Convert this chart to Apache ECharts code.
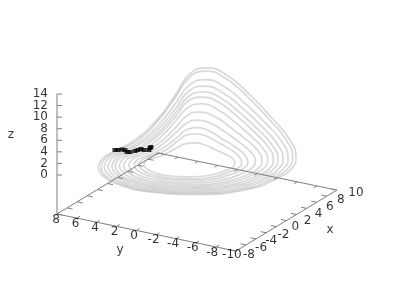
<!DOCTYPE html>
<html><head><meta charset="utf-8">
<style>html,body{margin:0;padding:0;background:#fff}#c{width:394px;height:296px}</style>
<script src="https://cdn.jsdelivr.net/npm/echarts@6/dist/echarts.min.js"></script>
</head><body><div id="c"></div>
<script>
const xTicks=[-10,-8,-6,-4,-2,0,2,4,6,8,10];
const yTicks=[8,6,4,2,0,-2,-4,-6,-8];
const zTicks=[0,2,4,6,8,10,12,14];

const a_x=[-5.97,-7.91,-9.25,-9.44,-7.67,-4.15,.04,2.48,3.96,6.09,7.03,7.29,7.99,7.48,6.56,5.08,2.85,-.34,-1.91,-3.66];
const a_y=[5.92,4.43,2.04,-1.07,-4.90,-7.94,-9.14,-9.40,-8.95,-7.26,-4.98,-2.64,-.07,1.79,3.04,3.88,4.47,5.06,6.27,6.59];
const a_z=[0,0,0,0,0,0,.3,1,1.8,3,5.5,8.5,10.5,11.5,10.5,7,4,2,.5,.1];
const b_x=[-5.80,-7.69,-8.99,-9.17,-7.45,-4.04,.03,2.39,3.83,5.89,6.81,7.06,7.74,7.24,6.35,4.91,2.75,-.34,-1.87,-3.56];
const b_y=[5.75,4.30,1.98,-1.03,-4.75,-7.70,-8.86,-9.11,-8.68,-7.04,-4.83,-2.56,-.06,1.74,2.95,3.77,4.34,4.91,6.09,6.40];
const b_z=[0,0,0,0,0,0,.3,1,1.7,2.9,5.3,8.2,10.1,11.1,10.1,6.8,3.9,1.9,.5,.1];
const c_x=[-5.58,-7.39,-8.63,-8.81,-7.16,-3.89,.01,2.28,3.65,5.63,6.51,6.75,7.40,6.93,6.07,4.69,2.62,-.35,-1.81,-3.44];
const c_y=[5.52,4.13,1.91,-.98,-4.54,-7.37,-8.49,-8.73,-8.31,-6.74,-4.62,-2.44,-.05,1.68,2.84,3.62,4.17,4.72,5.84,6.14];
const c_z=[0,0,0,0,0,0,.3,.9,1.5,2.6,4.7,7.2,8.9,9.8,8.9,6,3.4,1.7,.4,.1];
const d_x=[-5.33,-7.05,-8.24,-8.41,-6.84,-3.72,-.02,2.14,3.45,5.34,6.17,6.40,7.02,6.57,5.75,4.45,2.47,-.35,-1.74,-3.29];
const d_y=[5.26,3.94,1.83,-.93,-4.32,-7.01,-8.07,-8.30,-7.90,-6.40,-4.39,-2.32,-.04,1.60,2.71,3.46,3.98,4.50,5.57,5.85];
const d_z=[0,0,0,0,0,0,.2,.8,1.4,2.3,4.3,6.6,8.1,8.9,8.1,5.4,3.1,1.6,.4,.1];
const e_x=[-5.08,-6.71,-7.84,-8.00,-6.51,-3.56,-.04,2.01,3.26,5.05,5.84,6.05,6.64,6.21,5.44,4.20,2.32,-.36,-1.67,-3.14];
const e_y=[5.00,3.75,1.74,-.87,-4.09,-6.64,-7.65,-7.87,-7.49,-6.07,-4.15,-2.19,-.03,1.53,2.58,3.29,3.78,4.28,5.30,5.56];
const e_z=[0,0,0,0,0,0,.2,.7,1.3,2.1,3.9,6,7.4,8.1,7.4,4.9,2.8,1.4,.4,.1];
const f_x=[-4.86,-6.42,-7.49,-7.64,-6.22,-3.41,-.06,1.90,3.08,4.78,5.54,5.74,6.30,5.90,5.16,3.98,2.19,-.36,-1.62,-3.02];
const f_y=[4.77,3.58,1.67,-.82,-3.88,-6.32,-7.28,-7.48,-7.12,-5.77,-3.95,-2.08,-.02,1.47,2.47,3.14,3.61,4.08,5.05,5.31];
const f_z=[0,0,0,0,0,0,.2,.6,1.2,1.9,3.5,5.5,6.8,7.4,6.8,4.5,2.6,1.3,.3,.1];
const g_x=[-4.59,-6.04,-7.05,-7.19,-5.86,-3.22,-.08,1.75,2.86,4.46,5.16,5.36,5.88,5.50,4.81,3.70,2.03,-.37,-1.54,-2.86];
const g_y=[4.49,3.37,1.58,-.76,-3.63,-5.91,-6.81,-7.01,-6.67,-5.40,-3.69,-1.94,-.01,1.39,2.33,2.96,3.40,3.84,4.75,4.99];
const g_z=[0,0,0,0,0,0,.2,.6,1,1.7,3.1,4.8,5.9,6.5,5.9,4,2.3,1.1,.3,.1];
const h_x=[-4.31,-5.67,-6.61,-6.74,-5.50,-3.04,-.10,1.60,2.64,4.13,4.79,4.97,5.46,5.10,4.46,3.42,1.86,-.37,-1.47,-2.69];
const h_y=[4.20,3.16,1.48,-.69,-3.38,-5.50,-6.34,-6.53,-6.21,-5.03,-3.43,-1.79,0,1.31,2.18,2.77,3.18,3.60,4.44,4.67];
const h_z=[0,0,0,0,0,0,.1,.5,.8,1.4,2.5,3.9,4.8,5.3,4.8,3.2,1.8,.9,.2,0];
const i_x=[-3.98,-5.22,-6.08,-6.20,-5.07,-2.81,-.13,1.43,2.38,3.74,4.34,4.51,4.96,4.63,4.04,3.09,1.67,-.38,-1.38,-2.50];
const i_y=[3.85,2.90,1.37,-.62,-3.07,-5.02,-5.78,-5.95,-5.66,-4.58,-3.12,-1.63,.02,1.21,2.01,2.55,2.93,3.30,4.08,4.28];
const i_z=[0,0,0,0,0,0,.1,.4,.7,1.1,2,3.1,3.8,4.2,3.8,2.6,1.5,.7,.2,0];
const j_x=[-3.62,-4.74,-5.51,-5.62,-4.60,-2.57,-.16,1.24,2.09,3.31,3.86,4.00,4.41,4.11,3.59,2.73,1.45,-.38,-1.29,-2.29];
const j_y=[3.48,2.62,1.25,-.54,-2.74,-4.48,-5.18,-5.33,-5.07,-4.10,-2.79,-1.44,.04,1.11,1.83,2.31,2.65,2.99,3.68,3.87];
const j_z=[0,0,0,0,0,0,.1,.3,.5,.8,1.5,2.3,2.9,3.2,2.9,1.9,1.1,.6,.1,0];
const k_x=[-3.31,-4.32,-5.02,-5.12,-4.20,-2.37,-.19,1.08,1.85,2.96,3.45,3.58,3.94,3.68,3.20,2.43,1.27,-.39,-1.20,-2.11];
const k_y=[3.16,2.39,1.15,-.47,-2.46,-4.04,-4.67,-4.80,-4.57,-3.69,-2.50,-1.29,.05,1.02,1.67,2.10,2.41,2.72,3.35,3.51];
const k_z=[0,0,0,0,0,0,.1,.2,.4,.6,1.2,1.8,2.2,2.4,2.2,1.5,.8,.4,.1,0];
const l_x=[-2.98,-3.88,-4.49,-4.58,-3.77,-2.15,-.22,.90,1.58,2.56,2.99,3.12,3.44,3.20,2.78,2.10,1.07,-.39,-1.12,-1.92];
const l_y=[2.82,2.13,1.04,-.40,-2.16,-3.56,-4.11,-4.23,-4.02,-3.24,-2.19,-1.12,.07,.92,1.50,1.88,2.15,2.42,2.98,3.13];
const l_z=[0,0,0,0,0,0,0,.1,.2,.3,.5,.8,1,1.1,1,.7,.4,.2,0,0];

const dots_x=[-3.79,-3.64,-3.31,-3.29,-3.67,-3.51,-3.02,-2.63,-2.23,-2.33,-2.07,-1.53,-1.23];
const dots_y=[5.32,5.10,4.86,4.57,4.17,3.95,3.69,3.60,3.50,3.15,2.78,2.94,3.00];
const dots_z=[2,2,2,2,2,2,2,2,2,2,2,2,2];

const FONT='"DejaVu Sans"';
const zBase=-6.74;
function project(x,y,z){
  return [187+5.05*x-9.94*y, 160.98-3.05*x-2.06*y-5.786*z];
}
const loops=[[a_x,a_y,a_z],[b_x,b_y,b_z],[c_x,c_y,c_z],[d_x,d_y,d_z],[e_x,e_y,e_z],[f_x,f_y,f_z],
             [g_x,g_y,g_z],[h_x,h_y,h_z],[i_x,i_y,i_z],[j_x,j_y,j_z],[k_x,k_y,k_z],[l_x,l_y,l_z]];
const series=[];
loops.forEach(function(l){
  const pts=l[0].map(function(v,i){return project(v,l[1][i],l[2][i]);});
  pts.push(pts[0]);
  series.push({type:'line',data:pts,smooth:.5,showSymbol:false,symbol:'none',silent:true,z:2,
    lineStyle:{color:'rgba(165,165,165,.42)',width:1.7}});
});
const axisColor='#808080';
function seg(p,q,w){series.push({type:'line',data:[p,q],symbol:'none',silent:true,z:3,
  lineStyle:{color:axisColor,width:w||1}});}
const xMin=-10,xMax=10,yMin=-10,yMax=8,zMax=14;
seg(project(xMin,yMax,zBase),project(xMin,yMin,zBase));
seg(project(xMin,yMin,zBase),project(xMax,yMin,zBase));
seg(project(xMax,yMin,zBase),project(xMax,yMax,zBase));
seg(project(xMax,yMax,zBase),project(xMin,yMax,zBase));
seg(project(xMin,yMax,zBase),project(xMin,yMax,zMax));
xTicks.forEach(function(t){
  seg(project(t,yMin,zBase),project(t,yMin+.55,zBase));
  seg(project(t,yMax,zBase),project(t,yMax-.55,zBase));
});
yTicks.forEach(function(t){
  seg(project(xMin,t,zBase),project(xMin+.6,t,zBase));
  seg(project(xMax,t,zBase),project(xMax-.6,t,zBase));
});
zTicks.forEach(function(t){
  const p=project(xMin,yMax,t);
  seg(p,[p[0]+5,p[1]]);
});
const xOff=[[-4,4],[3,10],[5,9],[5,8],[7,8],[9,6],[11,6],[12,5],[13,5],[14,4],[19,3]];
const labels=[];
xTicks.forEach(function(t,i){
  const p=project(t,yMin,zBase);
  labels.push([p[0]+xOff[i][0],p[1]+xOff[i][1],String(t),'center']);
});
yTicks.forEach(function(t){
  const p=project(xMin,t,zBase);
  labels.push([p[0]-1-(8-t)*.18,p[1]+5.5,String(t),'center']);
});
zTicks.forEach(function(t){
  const p=project(xMin,yMax,t);
  labels.push([48,p[1],String(t),'right']);
});
labels.push([11,135,'z','center'],[120,250,'y','center'],[330,230,'x','center']);
labels.forEach(function(l){
  series.push({type:'scatter',data:[[l[0],l[1],l[2]]],symbolSize:0,silent:true,z:5,
    label:{show:true,position:'inside',align:l[3],verticalAlign:'middle',formatter:function(p){return p.value[2];},
      fontFamily:FONT,fontSize:12,color:'#000'}});
});
series.push({type:'scatter',symbol:'rect',symbolSize:[5,4],silent:true,z:6,itemStyle:{color:'#000'},
  data:dots_x.map(function(v,i){return project(v,dots_y[i],dots_z[i]);})});

const chart=echarts.init(document.getElementById('c'),null,{renderer:'canvas'});
chart.setOption({animation:false,backgroundColor:'#fff',
  grid:{left:0,right:0,top:0,bottom:0},
  xAxis:{type:'value',min:0,max:394,show:false},
  yAxis:{type:'value',min:0,max:296,inverse:true,show:false},
  series:series});
</script></body></html>
